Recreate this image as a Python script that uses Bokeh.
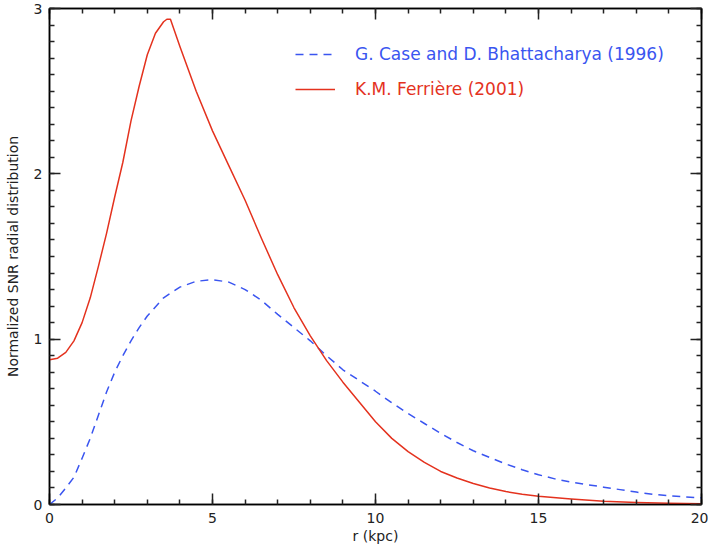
from bokeh.plotting import figure
from bokeh.models import Range1d, LinearAxis, SingleIntervalTicker, Legend, LegendItem
from bokeh.embed import file_html
from bokeh.resources import INLINE

# Data
r_case = [0.0, 0.25, 0.5, 0.75, 1.0, 1.25, 1.5, 1.75, 2.0, 2.25, 2.5, 2.75, 3.0, 3.5, 4.0, 4.5, 5.0, 5.5,
          6.0, 6.5, 7.0, 7.5, 8.0, 8.5, 9.0, 9.5, 10.0, 10.5, 11.0, 11.5, 12.0, 12.5, 13.0, 13.5, 14.0,
          14.5, 15.0, 15.5, 16.0, 16.5, 17.0, 17.5, 18.0, 18.5, 19.0, 19.5, 20.0]
v_case = [0.0, 0.04, 0.10, 0.165, 0.28, 0.40, 0.54, 0.68, 0.80, 0.90, 0.99, 1.07, 1.14, 1.25, 1.315, 1.35,
          1.36, 1.345, 1.30, 1.235, 1.15, 1.07, 0.99, 0.90, 0.815, 0.75, 0.685, 0.615, 0.55, 0.49, 0.43,
          0.375, 0.325, 0.285, 0.245, 0.21, 0.18, 0.155, 0.135, 0.12, 0.105, 0.09, 0.075, 0.062, 0.053,
          0.046, 0.04]

r_ferr = [0.0, 0.25, 0.5, 0.75, 1.0, 1.25, 1.5, 1.75, 2.0, 2.25, 2.5, 2.75, 3.0, 3.25, 3.5, 3.6, 3.71,
          4.0, 4.5, 5.0, 5.5, 6.0, 6.5, 7.0, 7.5, 8.0, 8.5, 9.0, 9.5, 10.0, 10.5, 11.0, 11.5, 12.0,
          12.5, 13.0, 13.5, 14.0, 14.5, 15.0, 16.0, 17.0, 18.0, 19.0, 20.0]
v_ferr = [0.875, 0.885, 0.92, 0.99, 1.10, 1.25, 1.44, 1.64, 1.86, 2.07, 2.32, 2.53, 2.72, 2.85, 2.92,
          2.935, 2.935, 2.77, 2.50, 2.26, 2.05, 1.84, 1.61, 1.39, 1.19, 1.02, 0.87, 0.74, 0.62, 0.50,
          0.40, 0.32, 0.255, 0.20, 0.16, 0.127, 0.10, 0.078, 0.062, 0.05, 0.033, 0.02, 0.012, 0.008, 0.005]

label_case = "G. Case and D. Bhattacharya (1996)"
label_ferr = "K.M. Ferrière (2001)"
x_label = "r (kpc)"
y_label = "Normalized SNR radial distribution"

BLUE = "#3a55f0"
RED = "#e4321e"
FONT = "DejaVu Sans"

p = figure(width=708, height=547, output_backend="svg", toolbar_location=None,
           x_range=Range1d(0, 20), y_range=Range1d(0, 3),
           min_border_left=49, min_border_right=7, min_border_top=8, min_border_bottom=43,
           x_axis_label=x_label, y_axis_label=y_label)
p.xgrid.visible = False
p.ygrid.visible = False
p.outline_line_color = "black"
p.outline_line_width = 1.5
p.background_fill_color = "white"
p.border_fill_color = "white"

l_case = p.line(r_case, v_case, line_color=BLUE, line_width=1.5, line_dash="8 6", line_join="round")
l_ferr = p.line(r_ferr, v_ferr, line_color=RED, line_width=1.5, line_join="round")

xt = SingleIntervalTicker(interval=5, num_minor_ticks=5)
yt = SingleIntervalTicker(interval=1, num_minor_ticks=10)

def style(ax, labels=True):
    ax.major_tick_in = 11
    ax.major_tick_out = 0
    ax.minor_tick_in = 5
    ax.minor_tick_out = 0
    ax.axis_line_width = 1.5
    ax.major_tick_line_width = 1.5
    ax.minor_tick_line_width = 1.5
    ax.major_tick_line_color = "#222222"
    ax.minor_tick_line_color = "#222222"
    ax.major_label_text_font = FONT
    ax.major_label_text_font_size = "14px"
    ax.major_label_text_color = "#222222" if labels else None
    ax.axis_label_text_font = FONT
    ax.axis_label_text_font_size = "14px"
    ax.axis_label_text_font_style = "normal"
    ax.axis_label_text_color = "#222222"

p.xaxis.ticker = xt
p.yaxis.ticker = yt
style(p.xaxis[0])
style(p.yaxis[0])
p.xaxis[0].major_label_standoff = 8
p.xaxis[0].axis_label_standoff = 2
p.yaxis[0].major_label_standoff = 7
p.yaxis[0].axis_label_standoff = 10

top = LinearAxis(ticker=SingleIntervalTicker(interval=5, num_minor_ticks=5))
right = LinearAxis(ticker=SingleIntervalTicker(interval=1, num_minor_ticks=10))
style(top, labels=False)
style(right, labels=False)
top.major_label_text_font_size = "0px"
right.major_label_text_font_size = "0px"
top.major_label_standoff = 0
right.major_label_standoff = 0
p.add_layout(top, "above")
p.add_layout(right, "right")

def make_legend(renderer, label, color, y):
    lg = Legend(items=[LegendItem(label=label, renderers=[renderer])],
                location=(246, y), padding=0, margin=0, spacing=0,
                glyph_width=40, glyph_height=18, label_standoff=20,
                label_text_color=color, label_text_font=FONT, label_text_font_size="17px",
                border_line_color=None, background_fill_alpha=0)
    p.add_layout(lg, "center")

make_legend(l_case, label_case, BLUE, 440)
make_legend(l_ferr, label_ferr, RED, 405)

open("out.html", "w").write(file_html(p, INLINE))
